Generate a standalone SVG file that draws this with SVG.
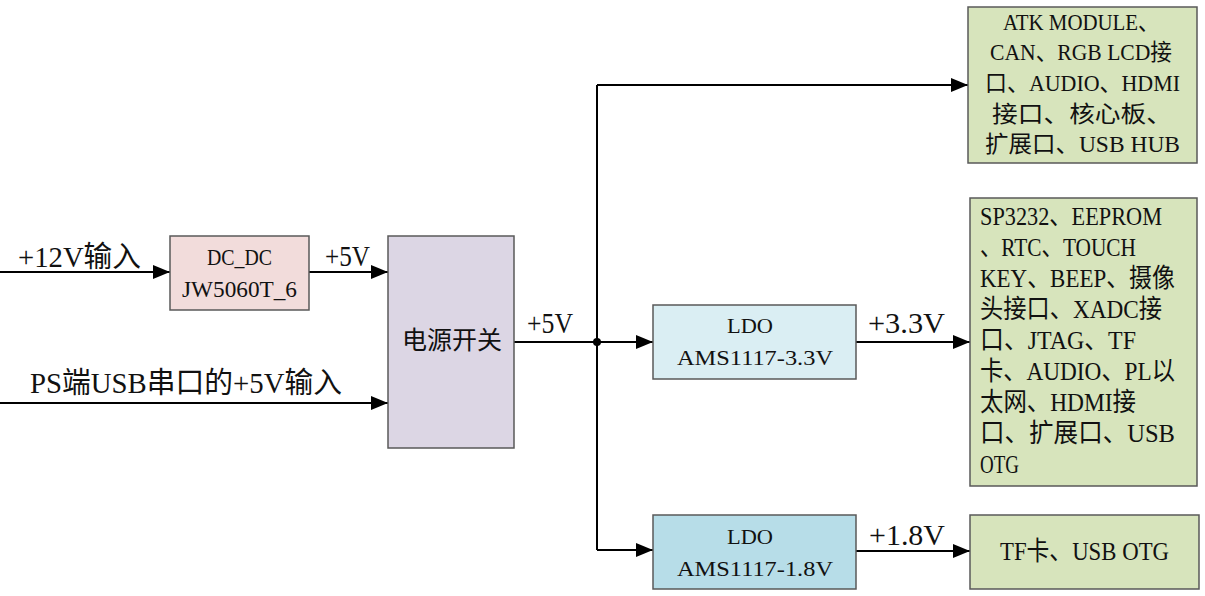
<svg xmlns="http://www.w3.org/2000/svg" width="1205" height="596" viewBox="0 0 1205 596">
<style>
.box{stroke:#595959;stroke-width:1.5}
.t{font-family:"Liberation Serif","Noto Sans CJK SC",serif;fill:#111}
.ln{stroke:#000;stroke-width:2;fill:none}
</style>
<defs>
<marker id="ar" markerUnits="userSpaceOnUse" markerWidth="18" markerHeight="14" refX="17" refY="7" orient="auto">
<path d="M0,0 L17,7 L0,14 Z" fill="#000"/>
</marker>
</defs>
<rect width="1205" height="596" fill="#fff"/>
<g id="connectors">
<path class="ln" d="M0,272 H170" marker-end="url(#ar)"/>
<path class="ln" d="M309,272 H388" marker-end="url(#ar)"/>
<path class="ln" d="M0,403 H388" marker-end="url(#ar)"/>
<path class="ln" d="M514,342 H653" marker-end="url(#ar)"/>
<path class="ln" d="M597,85 V550"/>
<path class="ln" d="M597,85 H968" marker-end="url(#ar)"/>
<path class="ln" d="M597,550 H653" marker-end="url(#ar)"/>
<path class="ln" d="M856,342 H970" marker-end="url(#ar)"/>
<path class="ln" d="M856,551 H970" marker-end="url(#ar)"/>
<circle cx="597" cy="342" r="4" fill="#000"/>
<g class="t" font-size="29">
<text x="18" y="267" textLength="123" lengthAdjust="spacingAndGlyphs">+12V输入</text>
<text x="325" y="266" textLength="45" lengthAdjust="spacingAndGlyphs">+5V</text>
<text x="30" y="393" textLength="312" lengthAdjust="spacingAndGlyphs">PS端USB串口的+5V输入</text>
<text x="527" y="333" textLength="46" lengthAdjust="spacingAndGlyphs">+5V</text>
<text x="868" y="333" textLength="77" lengthAdjust="spacingAndGlyphs">+3.3V</text>
<text x="869" y="545" textLength="76" lengthAdjust="spacingAndGlyphs">+1.8V</text>
</g>
</g>
<g id="dcdc">
<rect class="box" x="170" y="236" width="139" height="74" fill="#f2dcdb"/>
<text class="t" x="207" y="265" font-size="23" textLength="65" lengthAdjust="spacingAndGlyphs">DC_DC</text>
<text class="t" x="182" y="297" font-size="23" textLength="115" lengthAdjust="spacingAndGlyphs">JW5060T_6</text>
</g>
<g id="switch">
<rect class="box" x="388" y="236" width="126" height="212" fill="#dcd6e4"/>
<text class="t" x="402" y="349" font-size="25" textLength="100" lengthAdjust="spacingAndGlyphs">电源开关</text>
</g>
<g id="ldo33">
<rect class="box" x="653" y="305" width="203" height="74" fill="#daeef3"/>
<text class="t" x="727" y="333" font-size="22" textLength="46" lengthAdjust="spacingAndGlyphs">LDO</text>
<text class="t" x="677" y="365" font-size="22" textLength="156" lengthAdjust="spacingAndGlyphs">AMS1117-3.3V</text>
</g>
<g id="ldo18">
<rect class="box" x="653" y="515" width="203" height="74" fill="#b7dde8"/>
<text class="t" x="727" y="544" font-size="22" textLength="46" lengthAdjust="spacingAndGlyphs">LDO</text>
<text class="t" x="677" y="576" font-size="22" textLength="156" lengthAdjust="spacingAndGlyphs">AMS1117-1.8V</text>
</g>
<g id="load5v">
<rect class="box" x="968" y="7" width="229" height="156" fill="#d7e4bc"/>
<g class="t" font-size="23">
<text x="1003" y="30" textLength="156" lengthAdjust="spacingAndGlyphs">ATK MODULE、</text>
<text x="990" y="60" textLength="182" lengthAdjust="spacingAndGlyphs">CAN、RGB LCD接</text>
<text x="985" y="91" textLength="195" lengthAdjust="spacingAndGlyphs">口、AUDIO、HDMI</text>
<text x="992" y="122" textLength="180" lengthAdjust="spacingAndGlyphs">接口、核心板、</text>
<text x="985" y="152" textLength="195" lengthAdjust="spacingAndGlyphs">扩展口、USB HUB</text>
</g>
</g>
<g id="load33">
<rect class="box" x="970" y="198" width="227" height="288" fill="#d7e4bc"/>
<g class="t" font-size="26">
<text x="980" y="225" textLength="182" lengthAdjust="spacingAndGlyphs">SP3232、EEPROM</text>
<text x="980" y="256" textLength="156" lengthAdjust="spacingAndGlyphs">、RTC、TOUCH</text>
<text x="980" y="287" textLength="195" lengthAdjust="spacingAndGlyphs">KEY、BEEP、摄像</text>
<text x="980" y="318" textLength="182" lengthAdjust="spacingAndGlyphs">头接口、XADC接</text>
<text x="980" y="349" textLength="156" lengthAdjust="spacingAndGlyphs">口、JTAG、TF</text>
<text x="980" y="380" textLength="195" lengthAdjust="spacingAndGlyphs">卡、AUDIO、PL以</text>
<text x="980" y="411" textLength="156" lengthAdjust="spacingAndGlyphs">太网、HDMI接</text>
<text x="980" y="442" textLength="195" lengthAdjust="spacingAndGlyphs">口、扩展口、USB</text>
<text x="980" y="473" textLength="39" lengthAdjust="spacingAndGlyphs">OTG</text>
</g>
</g>
<g id="load18">
<rect class="box" x="970" y="515" width="229" height="74" fill="#d7e4bc"/>
<text class="t" x="1000" y="560" font-size="26" textLength="169" lengthAdjust="spacingAndGlyphs">TF卡、USB OTG</text>
</g>
</svg>
